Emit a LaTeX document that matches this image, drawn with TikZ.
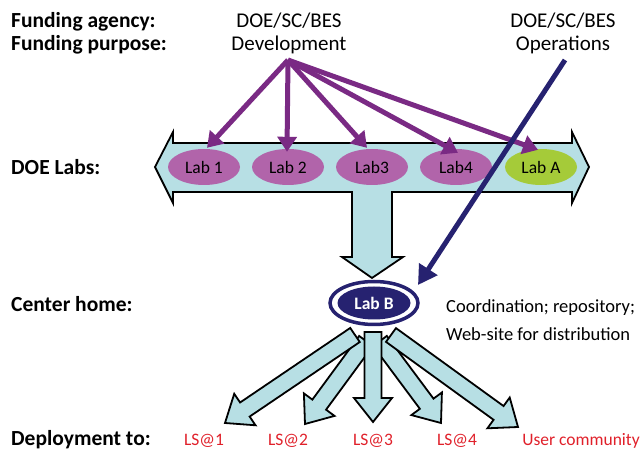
\documentclass[tikz,border=0pt]{standalone}
\usepackage{fontspec}
\setmainfont{Carlito}
\usetikzlibrary{arrows.meta,calc,shapes.geometric}
\definecolor{barfill}{RGB}{183,223,228}
\definecolor{labpurple}{RGB}{177,100,170}
\definecolor{labgreen}{RGB}{165,203,57}
\definecolor{arrpurple}{RGB}{122,42,132}
\definecolor{navyc}{RGB}{38,34,112}
\definecolor{lsred}{RGB}{224,32,42}
\newcommand\fatarrow[2]{%
  \coordinate (hb) at ($(#2)!24pt!(#1)$);
  \draw[fatarr] ($(#1)!8.5pt!90:(#2)$) -- ($(hb)!8.5pt!90:(#2)$) -- ($(hb)!19pt!90:(#2)$) -- (#2)
     -- ($(hb)!19pt!-90:(#2)$) -- ($(hb)!8.5pt!-90:(#2)$) -- ($(#1)!8.5pt!-90:(#2)$) -- cycle;}
\begin{document}
\begin{tikzpicture}[x=1pt,y=-1pt,
  toptext/.style={inner sep=0, font=\fontsize{21}{25}\selectfont},
  lefttext/.style={inner sep=0, font=\fontsize{21.5}{25}\selectfont\bfseries},
  labnode/.style={ellipse, fill=labpurple, minimum width=72pt, minimum height=36pt, inner sep=0, font=\fontsize{17.5}{20}\selectfont},
  lstext/.style={inner sep=0, text=lsred, font=\fontsize{17.5}{20}\selectfont},
  infotext/.style={inner sep=0, font=\fontsize{18.5}{22}\selectfont},
  bigarrow/.style={draw=black, line width=1.8pt, fill=barfill, line join=miter},
  fatarr/.style={draw=black, line width=1.8pt, fill=barfill, line join=miter},
  purparrow/.style={draw=arrpurple, line width=5pt, -{Triangle[length=15pt,width=19pt]}},
  navyarrow/.style={draw=navyc, line width=5pt, -{Triangle[length=19pt,width=21pt]}}
]
\useasboundingbox (0,0) rectangle (641,454);

% left labels
\node[lefttext, anchor=base west] (fa) at (11,28) {Funding agency:};
\node[lefttext, anchor=base west] (fp) at (11,51) {Funding purpose:};
\node[lefttext, anchor=base west] (dl) at (11,175) {DOE Labs:};
\node[lefttext, anchor=base west] (ch) at (11,312) {Center home:};
\node[lefttext, anchor=base west] (dt) at (11,446) {Deployment to:};

% top texts
\node[toptext, anchor=base] (ag1) at (289,28) {DOE/SC/BES};
\node[toptext, anchor=base] (dev) at (289,51) {Development};
\node[toptext, anchor=base] (ag2) at (563,28) {DOE/SC/BES};
\node[toptext, anchor=base] (ops) at (563,51) {Operations};
\coordinate (dsrc) at (288,60);
\coordinate (osrc) at (565,60);

% big T arrow
\draw[bigarrow] (155,167) -- (173,132) -- (173,143) -- (572,143) -- (572,132) -- (589,167)
  -- (572,203) -- (572,192) -- (392,192) -- (392,257) -- (403,257) -- (372,278)
  -- (342,257) -- (352,257) -- (352,192) -- (173,192) -- (173,203) -- cycle;

% labs
\node[labnode] (L1) at (204,167) {Lab 1};
\node[labnode] (L2) at (288,167) {Lab 2};
\node[labnode] (L3) at (372,167) {Lab3};
\node[labnode] (L4) at (456,167) {Lab4};
\node[labnode, fill=labgreen] (LA) at (541,167) {Lab A};

% purple arrows
\draw[purparrow] (dsrc) -- ($(L1.north)+(3,-1)$);
\draw[purparrow] (dsrc) -- ($(L2.north)+(-1,3)$);
\draw[purparrow] (dsrc) -- ($(L3.north)+(-5,-1)$);
\draw[purparrow] (dsrc) -- ($(L4.north)+(2,4)$);
\draw[purparrow] (dsrc) -- ($(LA.north)+(-3,1)$);

% bottom fat arrows
\coordinate (s1) at (355,335); \coordinate (t1) at (225,423);
\coordinate (s2) at (366,341); \coordinate (t2) at (305,424);
\coordinate (s3) at (373,332); \coordinate (t3) at (373,422);
\coordinate (s4) at (380,341); \coordinate (t4) at (441,423);
\coordinate (s5) at (391,335); \coordinate (t5) at (518,427);
\fatarrow{s2}{t2}
\fatarrow{s4}{t4}
\fatarrow{s1}{t1}
\fatarrow{s5}{t5}
\fatarrow{s3}{t3}

% Lab B
\node[ellipse, draw=navyc, line width=3.5pt, fill=white, minimum width=88pt, minimum height=43pt, inner sep=0] (LB) at (374,303) {};
\node[ellipse, fill=navyc, minimum width=73pt, minimum height=33pt, inner sep=0, text=white, font=\fontsize{17.5}{20}\selectfont\bfseries] (LBin) at (LB.center) {Lab B};

% navy arrow
\draw[navyarrow] (osrc) -- ($(LB.center)+(44,-18)$);

% info text
\node[infotext, anchor=base west] (info1) at (446,313) {Coordination; repository;};
\node[infotext, anchor=base west] (info2) at (446,341) {Web-site for distribution};

% deployment labels
\node[lstext, anchor=base] (ls1) at (204,446) {LS@1};
\node[lstext, anchor=base] (ls2) at (288,446) {LS@2};
\node[lstext, anchor=base] (ls3) at (373,446) {LS@3};
\node[lstext, anchor=base] (ls4) at (457,446) {LS@4};
\node[lstext, anchor=base] (uc) at (581,446) {User community};
\end{tikzpicture}
\end{document}
